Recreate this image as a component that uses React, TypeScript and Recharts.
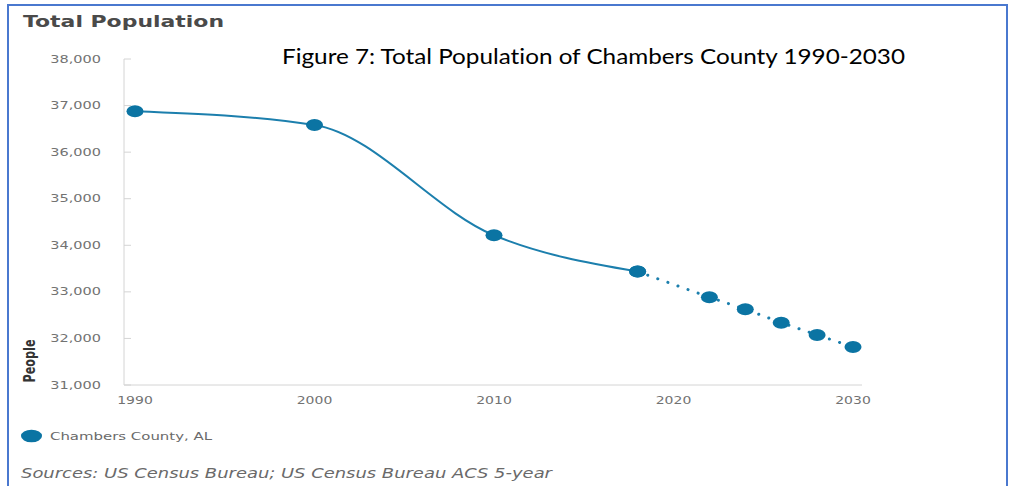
import React from 'react';
import { LineChart, Line, XAxis, YAxis } from 'recharts';

const years = [1990, 2000, 2010, 2018, 2022, 2024, 2026, 2028, 2030];
const estimates: (number | null)[] = [36880, 36583, 34215, 33435, null, null, null, null, null];
const projections: (number | null)[] = [null, null, null, 33435, 32885, 32627, 32339, 32075, 31817];
const xTicks = [1990, 2000, 2010, 2020, 2030];
const yTicks = [31000, 32000, 33000, 34000, 35000, 36000, 37000, 38000];

const chartTitle = 'Total Population';
const figureTitle = 'Figure 7: Total Population of Chambers County 1990-2030';
const seriesName = 'Chambers County, AL';
const yAxisTitle = 'People';
const sourcesText = 'Sources: US Census Bureau; US Census Bureau ACS 5-year';

const data = years.map((year, i) => ({
  year,
  estimate: estimates[i],
  projection: projections[i],
}));

const DOT = '#0b74a3';
const LINE = '#1c7fad';
const TICK_FONT = '"DejaVu Sans", sans-serif';

const fmt = (v: number) => v.toLocaleString('en-US');

const YTick = (props: any) => {
  const { x, y, payload } = props;
  return (
    <g>
      <line x1={x + 23} x2={x + 30} y1={y} y2={y} stroke="#d4d4d4" strokeWidth={1} />
      <text
        transform={`translate(${x},${y}) scale(1.45,1)`}
        textAnchor="end"
        dy="0.36em"
        fontSize={10}
        fontFamily={TICK_FONT}
        fill="#727272"
      >
        {fmt(payload.value)}
      </text>
    </g>
  );
};

const XTick = (props: any) => {
  const { x, y, payload } = props;
  return (
    <text
      transform={`translate(${x},${y}) scale(1.4,1)`}
      textAnchor="middle"
      fontSize={10}
      fontFamily={TICK_FONT}
      fill="#727272"
    >
      {payload.value}
    </text>
  );
};

const renderDot = (props: any) => {
  const { cx, cy, index, value } = props;
  if (value == null || cx == null || cy == null) return <g key={`e-${index}`} />;
  return <ellipse key={`d-${index}`} cx={cx} cy={cy} rx={8.5} ry={6} fill={DOT} />;
};

export default function App() {
  return (
    <div
      style={{
        position: 'absolute',
        left: 0,
        top: 0,
        width: 1011,
        height: 486,
        overflow: 'hidden',
        background: '#fff',
      }}
    >
      <div
        style={{
          position: 'absolute',
          left: 7,
          top: 4,
          width: 1001,
          height: 600,
          boxSizing: 'border-box',
          border: '2px solid #4a78cf',
        }}
      />
      <div style={{ position: 'absolute', left: 0, top: 0 }}>
        <LineChart
          width={1011}
          height={486}
          data={data}
          margin={{ top: 59, right: 149, bottom: 71, left: 0 }}
        >
          <XAxis
            dataKey="year"
            type="number"
            domain={[1990, 2030]}
            ticks={xTicks}
            padding={{ left: 11, right: 9 }}
            height={30}
            tickLine={false}
            tickSize={0}
            tickMargin={19}
            axisLine={{ stroke: '#d4d4d4' }}
            tick={<XTick />}
          />
          <YAxis
            type="number"
            domain={[31000, 38000]}
            ticks={yTicks}
            width={124}
            tickLine={false}
            tickSize={0}
            tickMargin={23}
            axisLine={{ stroke: '#d4d4d4' }}
            tick={<YTick />}
          />
          <Line
            dataKey="estimate"
            type="monotone"
            stroke={LINE}
            strokeWidth={2}
            dot={renderDot}
            activeDot={false}
            isAnimationActive={false}
          />
          <Line
            dataKey="projection"
            type="linear"
            stroke={LINE}
            strokeWidth={3}
            strokeDasharray="0.1 10.6"
            strokeLinecap="round"
            dot={renderDot}
            activeDot={false}
            isAnimationActive={false}
          />
        </LineChart>
      </div>
      <svg
        width={1011}
        height={486}
        style={{ position: 'absolute', left: 0, top: 0, pointerEvents: 'none' }}
      >
        <text
          x={23}
          y={27}
          fontFamily={TICK_FONT}
          fontWeight="bold"
          fontSize={16}
          fill="#4a4a4a"
          textLength={201}
          lengthAdjust="spacingAndGlyphs"
        >
          {chartTitle}
        </text>
        <text
          x={282}
          y={63.5}
          fontFamily="Lato, sans-serif"
          fontSize={21}
          fill="#000"
          textLength={623}
          lengthAdjust="spacingAndGlyphs"
          style={{ fontVariantLigatures: 'none' }}
        >
          {figureTitle}
        </text>
        <text
          transform="translate(35,361) rotate(-90)"
          textAnchor="middle"
          fontFamily={TICK_FONT}
          fontWeight="bold"
          fontSize={15}
          fill="#333"
          textLength={43}
          lengthAdjust="spacingAndGlyphs"
        >
          {yAxisTitle}
        </text>
        <ellipse cx={31.5} cy={436} rx={10.5} ry={6.3} fill={DOT} />
        <text
          x={50}
          y={439.5}
          fontFamily={TICK_FONT}
          fontSize={10.5}
          fill="#6a6a6a"
          textLength={162}
          lengthAdjust="spacingAndGlyphs"
        >
          {seriesName}
        </text>
        <text
          x={21}
          y={478}
          fontFamily={TICK_FONT}
          fontStyle="italic"
          fontSize={14}
          fill="#6a6a6a"
          textLength={531}
          lengthAdjust="spacingAndGlyphs"
        >
          {sourcesText}
        </text>
      </svg>
    </div>
  );
}
